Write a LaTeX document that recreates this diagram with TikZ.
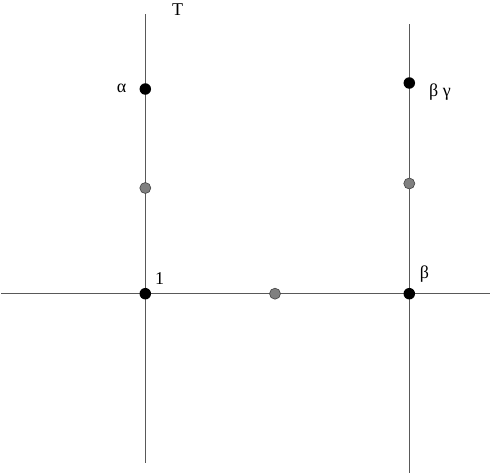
\documentclass[tikz,border=0pt]{standalone}
\usepackage{fontspec}
\setmainfont{Liberation Serif}
\begin{document}
\begin{tikzpicture}[x=1pt,y=-1pt,
  axis/.style={draw=black!65,line width=1pt},
  bdot/.style={circle,fill=black,inner sep=0pt,minimum size=11.5pt},
  gdot/.style={circle,fill=black!50,draw=black!75,line width=0.6pt,inner sep=0pt,minimum size=11pt},
  lbl/.style={font=\fontsize{18}{20}\selectfont,inner sep=0pt}]
\useasboundingbox (0,0) rectangle (491,474);
\coordinate (lt) at (145.3,14);
\coordinate (lb) at (145.3,463);
\coordinate (rt) at (409.3,24);
\coordinate (rb) at (409.3,472.5);
\coordinate (hl) at (1,293.7);
\coordinate (hr) at (489.5,293.7);
\draw[axis] (lt) -- (lb);
\draw[axis] (rt) -- (rb);
\draw[axis] (hl) -- (hr);
\node[bdot] (a) at (145.3,89) {};
\node[gdot] (g1) at (145.3,188) {};
\node[bdot] (o) at (145.3,293.7) {};
\node[gdot] (g2) at (275,293.7) {};
\node[bdot] (b) at (409.3,293.7) {};
\node[gdot] (g3) at (409.3,183.5) {};
\node[bdot] (bg) at (409.3,83) {};
\node[lbl] (T) at (177.5,10) {T};
\node[lbl] (al) at (121.5,88) {α};
\node[lbl] (one) at (159.5,279) {1};
\node[lbl] (be) at (424.5,274) {β};
\node[lbl] (bgl) at (440,92) {β γ};
\end{tikzpicture}
\end{document}
